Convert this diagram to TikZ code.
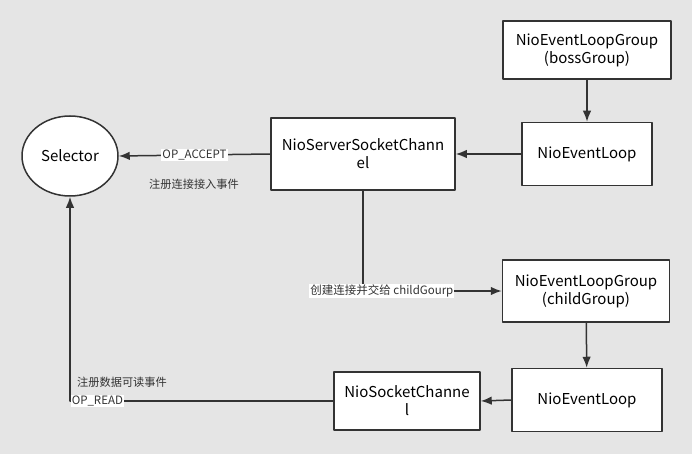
\documentclass[tikz,border=0pt]{standalone}
\usepackage{fontspec}
\setmainfont{Noto Sans CJK SC}
\usepackage{tikz}
\usetikzlibrary{arrows.meta}
\usetikzlibrary{shapes.geometric}
\definecolor{bggray}{RGB}{229,229,229}
\definecolor{linegray}{RGB}{51,51,51}

\begin{document}
\begin{tikzpicture}[x=1pt,y=-1pt,>={Latex[length=11pt,width=8.5pt]},line join=bevel,
  box/.style={draw=linegray,line width=1.5pt,fill=white,align=center,inner sep=2pt,
    font=\fontsize{15}{18}\selectfont},
  tag/.style={fill=white,inner sep=1pt,font=\fontsize{11.5}{13}\selectfont,text=linegray},
  note/.style={inner sep=1pt,font=\fontsize{11.2}{13}\selectfont,text=linegray},
  link/.style={linegray,line width=1.5pt}]
%%
\fill [bggray] (0,0) rectangle (692,454);
\useasboundingbox (0,0) rectangle (692,454);
\node (selector) at (70,156) [box,ellipse,minimum width=96pt,minimum height=80pt] {Selector};
  \node (boss_group) at (587,50) [box,minimum width=168pt,minimum height=58pt] {NioEventLoopGroup\\(bossGroup)};
  \node (boss_loop) at (587,154) [box,minimum width=130pt,minimum height=63pt] {NioEventLoop};
  \node (server_channel) at (363,154) [box,minimum width=184pt,minimum height=72pt] {NioServerSocketChann\\el};
  \node (child_group) at (586,291) [box,minimum width=167pt,minimum height=62pt] {NioEventLoopGroup\\(childGroup)};
  \node (child_loop) at (587,400) [box,minimum width=150pt,minimum height=63pt] {NioEventLoop};
  \node (socket_channel) at (407,401) [box,minimum width=146pt,minimum height=58pt] {NioSocketChanne\\l};
  \node (note_accept) at (194,184) [note] {注册连接接入事件};
  \node (note_read) at (76,382) [note,anchor=west] {注册数据可读事件};
  \draw [link,->] (boss_group) -- (boss_loop);
  \draw [link,->] (boss_loop) -- (server_channel);
  \draw [link,->] (server_channel.west) -- node [tag] {OP\_ACCEPT} (selector.east);
  \draw [link,->] (server_channel.south) |- node [tag,pos=0.568] {创建连接并交给 childGourp} (child_group.west);
  \draw [link,->] (child_group) -- (child_loop);
  \draw [link,->] (child_loop.west) -- (socket_channel.east);
  \draw [link,->] (socket_channel.west) -| node [tag,pos=0.5,anchor=west] {OP\_READ} (selector.south);
%
\end{tikzpicture}
\end{document}
